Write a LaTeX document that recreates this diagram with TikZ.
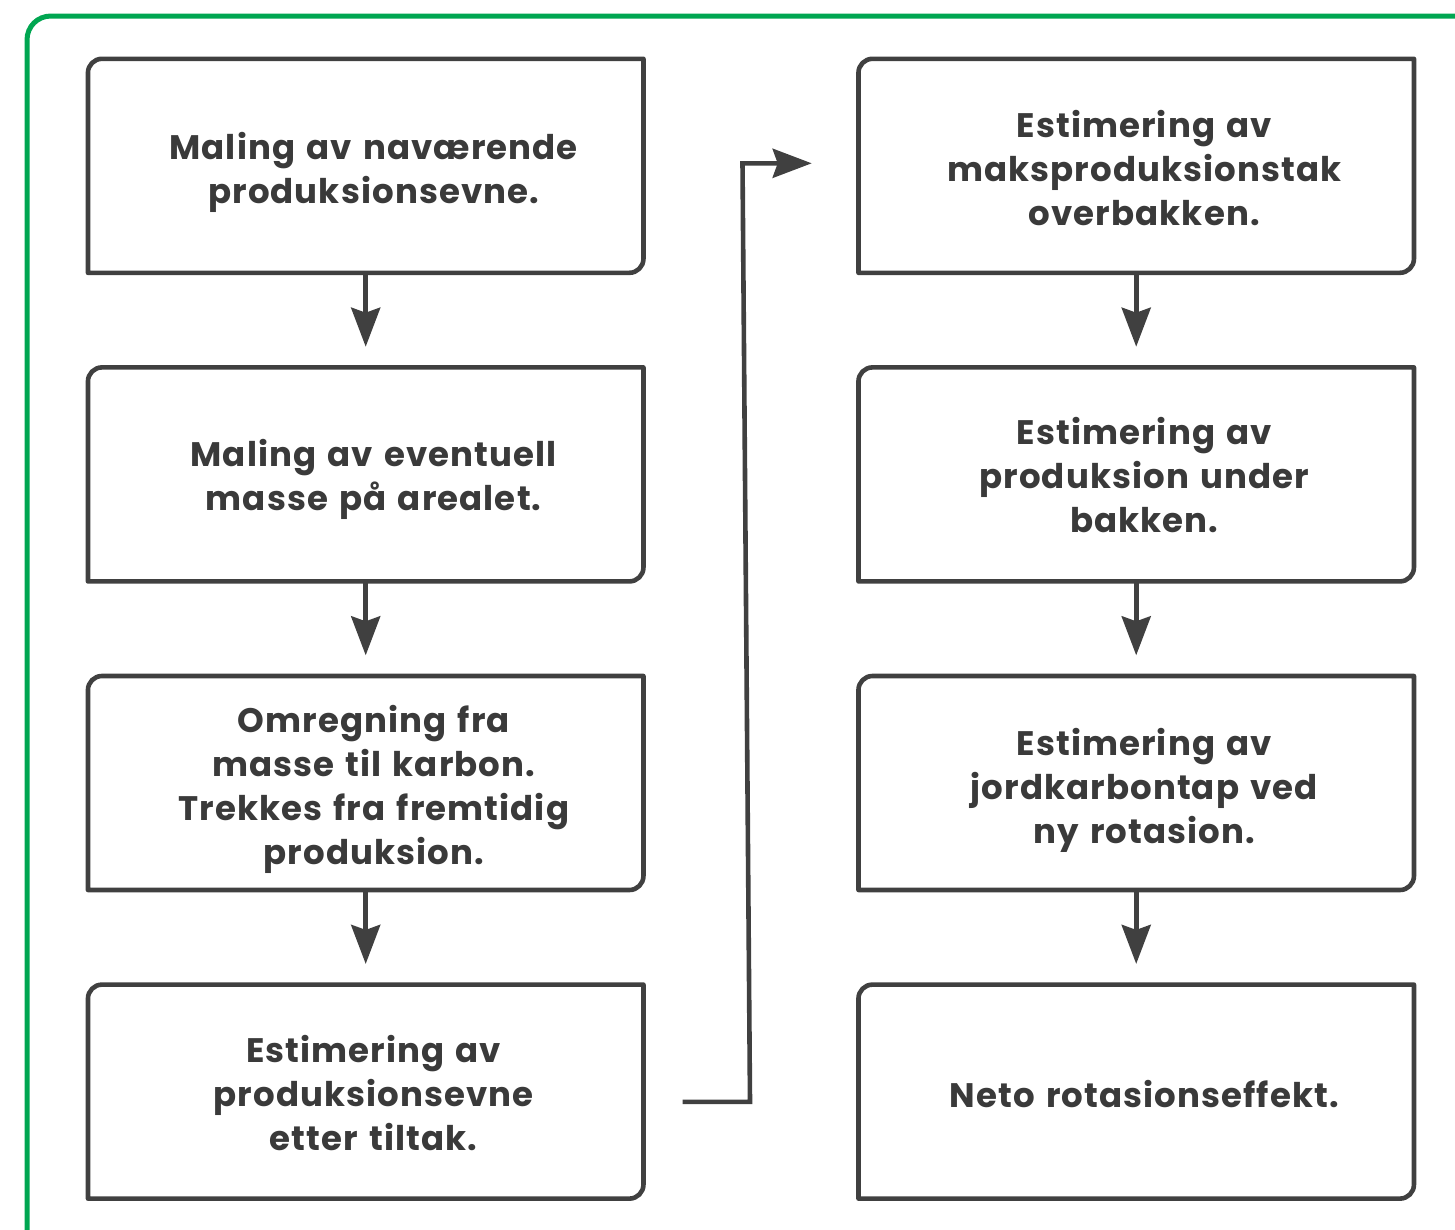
\documentclass[tikz,border=0pt]{standalone}
\usepackage{fontspec}
\setmainfont{Poppins}[LetterSpace=3.2,WordSpace=1.35]
\usetikzlibrary{arrows.meta,calc}
\definecolor{ink}{HTML}{404040}
\definecolor{txt}{HTML}{3A3A3A}
\definecolor{frame}{HTML}{00A651}
\tikzset{
  boxnode/.style={minimum width=555.5pt, minimum height=214pt, inner sep=0pt, outer sep=0pt},
  lbl/.style={font=\fontsize{34}{44}\selectfont\bfseries, text=txt, align=center, inner sep=0pt},
  boxline/.style={draw=ink, line width=4.6pt, line join=round},
  arr/.style={draw=ink, line width=4.6pt, -{Stealth[length=39pt,width=29pt,inset=5pt]}},
  greenframe/.style={draw=frame, line width=5pt},
}
\newcommand{\boxoutline}[1]{%
  \draw[boxline] (#1.south west) -- ($(#1.north west)+(0,14)$)
    .. controls ($(#1.north west)+(0,6.3)$) and ($(#1.north west)+(6.3,0)$) .. ($(#1.north west)+(14,0)$)
    -- (#1.north east) -- ($(#1.south east)+(0,-14)$)
    .. controls ($(#1.south east)+(0,-6.3)$) and ($(#1.south east)+(-6.3,0)$) .. ($(#1.south east)+(-14,0)$)
    -- cycle;}
\begin{document}
\begin{tikzpicture}[x=1pt,y=-1pt]
\useasboundingbox (0,0) rectangle (1455,1229);
\clip (0,0) rectangle (1455,1229);
% green frame
\draw[greenframe] (27,1260) -- (27,40) .. controls (27,26.5) and (37.5,16) .. (51,16) -- (1480,16);
% boxes
\node[boxnode] (l1) at (365.7,165.8) {};
\node[boxnode] (l2) at (365.7,474.4) {};
\node[boxnode] (l3) at (365.7,783) {};
\node[boxnode] (l4) at (365.7,1091.6) {};
\node[boxnode] (r1) at (1136.2,165.8) {};
\node[boxnode] (r2) at (1136.2,474.4) {};
\node[boxnode] (r3) at (1136.2,783) {};
\node[boxnode] (r4) at (1136.2,1091.6) {};
\foreach \b in {l1,l2,l3,l4,r1,r2,r3,r4} {\boxoutline{\b}}
% texts
\node[lbl] (tl1) at ($(l1.center)+(8,7)$) {Maling av naværende\\produksionsevne.};
\node[lbl] (tl2) at ($(l2.center)+(8,5)$) {Maling av eventuell\\masse på arealet.};
\node[lbl] (tl3) at ($(l3.center)+(8,6)$) {Omregning fra\\masse til karbon.\\Trekkes fra fremtidig\\produksion.};
\node[lbl] (tl4) at ($(l4.center)+(8,1)$) {Estimering av\\produksionsevne\\etter tiltak.};
\node[lbl] (tr1) at ($(r1.center)+(8,2)$) {Estimering av\\maksproduksionstak\\overbakken.};
\node[lbl] (tr2) at ($(r2.center)+(8,1)$) {Estimering av\\produksion under\\bakken.};
\node[lbl] (tr3) at ($(r3.center)+(8,7)$) {Estimering av\\jordkarbontap ved\\ny rotasion.};
\node[lbl] (tr4) at ($(r4.center)+(8,2)$) {Neto rotasionseffekt.};
% vertical arrows
\foreach \a/\b in {l1/l2,l2/l3,l3/l4,r1/r2,r2/r3,r3/r4}
  \draw[arr, shorten >=20.7pt] (\a.south) -- (\b.north);
% connector from left column to right column
\coordinate (cs) at (682.7,1101.8);
\coordinate (cb1) at (750,1101.8);
\coordinate (cb2) at (742.5,163.3);
\coordinate (ce) at (811.7,163.3);
\draw[arr, line join=miter] (cs) -- (cb1) -- (cb2) -- (ce);
\end{tikzpicture}
\end{document}
